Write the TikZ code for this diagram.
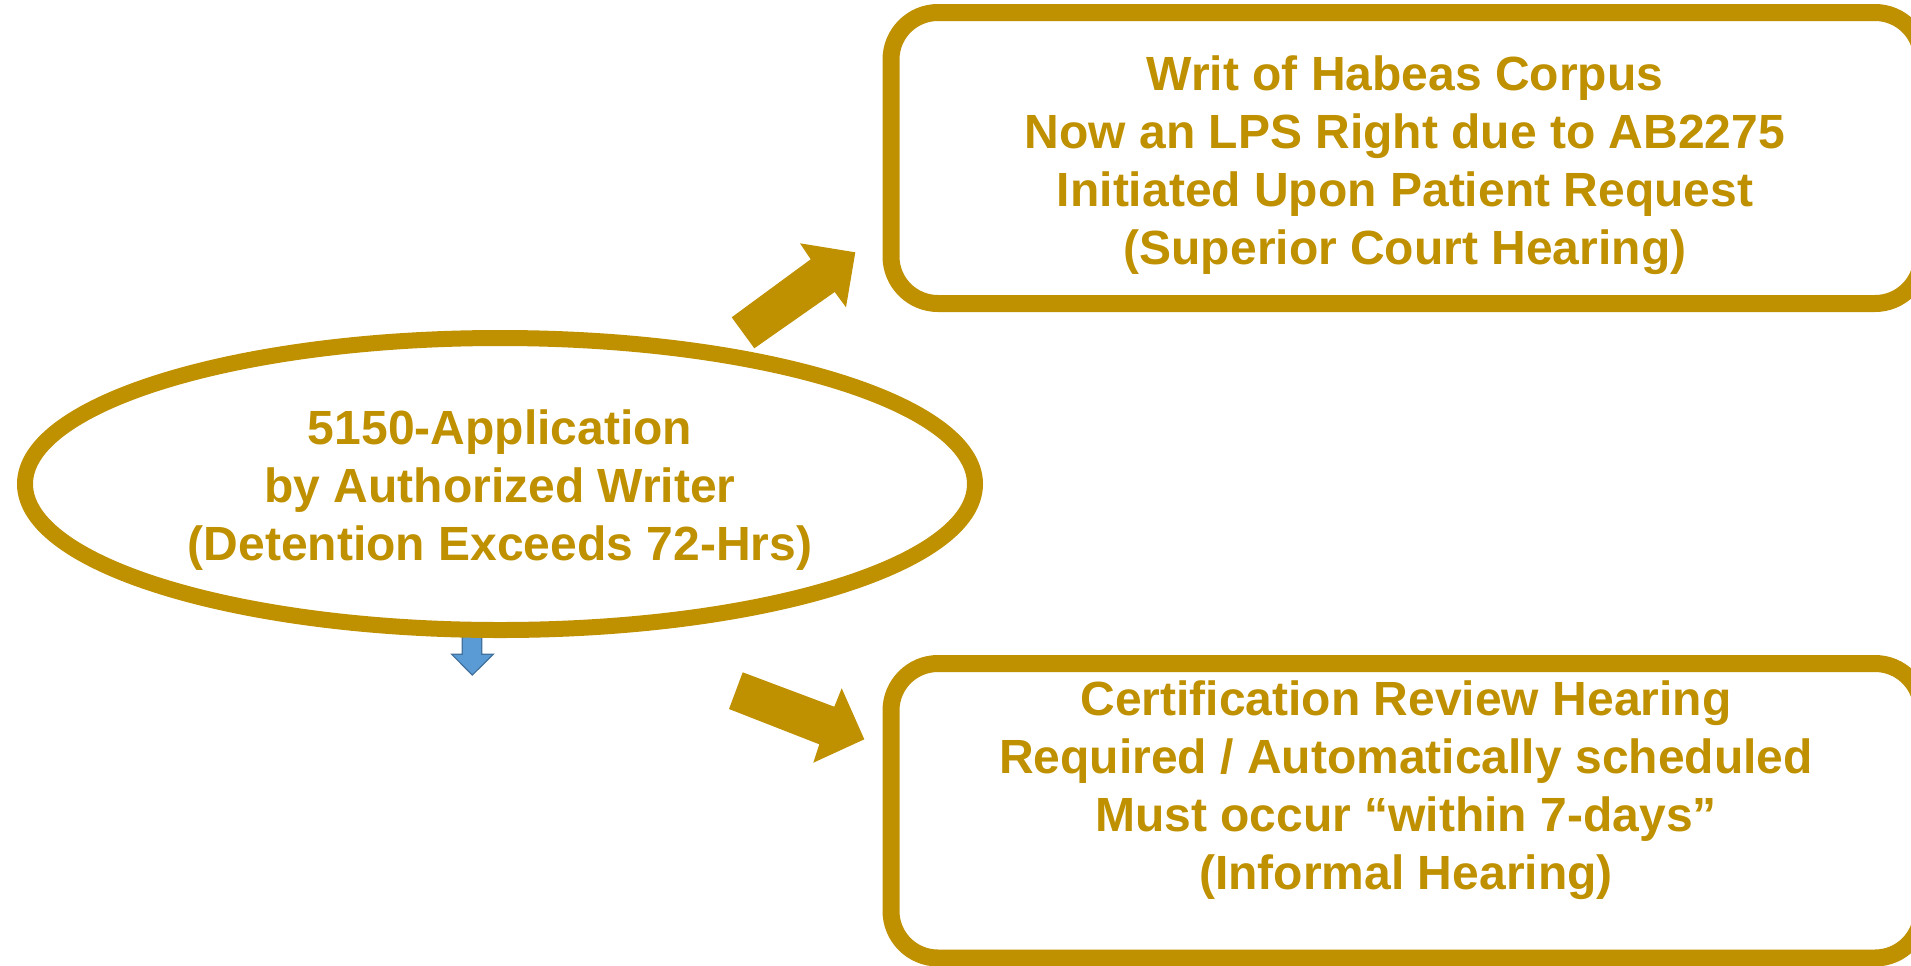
\documentclass[tikz,border=0pt]{standalone}
\usepackage{fontspec}
\setmainfont{Liberation Sans}
\usetikzlibrary{shapes.geometric}
\definecolor{gold}{HTML}{BF9000}
\definecolor{blfill}{HTML}{5B9BD5}
\definecolor{bldraw}{HTML}{41719C}
\tikzset{
  goldtext/.style={text=gold, align=center, font=\bfseries\fontsize{24pt}{29pt}\selectfont},
  goldbox/.style={draw=gold, line width=8.5pt, rounded corners=23.5pt, fill=white,
    minimum width=515.5pt, inner sep=0pt},
  goldell/.style={ellipse, draw=gold, line width=8pt, fill=white, inner sep=0pt,
    minimum width=475pt, minimum height=146pt},
  goldarrow/.style={fill=gold},
  bluearrow/.style={fill=blfill, draw=bldraw, line width=0.6pt, line join=miter}
}
\begin{document}
\begin{tikzpicture}[x=0.5pt, y=-0.5pt]
\useasboundingbox (0,0) rectangle (1911,965);
\begin{scope}
\clip (0,0) rectangle (1911,965);
% small blue down arrow (behind the ellipse)
\draw[bluearrow] (462.3,626) -- (462.3,654.3) -- (451.7,654.3) -- (472.3,675)
  -- (493.3,654.3) -- (481.7,654.3) -- (481.7,626) -- cycle;
% ellipse
\node[goldell] (app) at (500,484) {};
\node[goldtext] (apptext) at (500,490) {5150-Application\\by Authorized Writer\\(Detention Exceeds 72-Hrs)};
% boxes
\node[goldbox, minimum height=145.5pt] (writ) at (1406.5,158) {};
\node[goldtext] (writtext) at (1405,165) {Writ of Habeas Corpus\\Now an LPS Right due to AB2275\\Initiated Upon Patient Request\\(Superior Court Hearing)};
\node[goldbox, minimum height=147.25pt] (cert) at (1406.5,810.75) {};
\node[goldtext] (certtext) at (1406,790) {Certification Review Hearing\\Required / Automatically scheduled\\Must occur \char"201C within 7-days\char"201D\\(Informal Hearing)};
% gold block arrows
\fill[goldarrow] (731.7,317.3) -- (810.7,259.3) -- (800,243.3) -- (855.3,252.3)
  -- (846,307.3) -- (834.7,292) -- (754.3,348.3) -- cycle;
\fill[goldarrow] (742.7,672.3) -- (834.3,706.7) -- (841.7,688.3) -- (864.3,739.3)
  -- (813.3,762.7) -- (819.3,744.3) -- (729,709) -- cycle;
\end{scope}
\end{tikzpicture}
\end{document}
